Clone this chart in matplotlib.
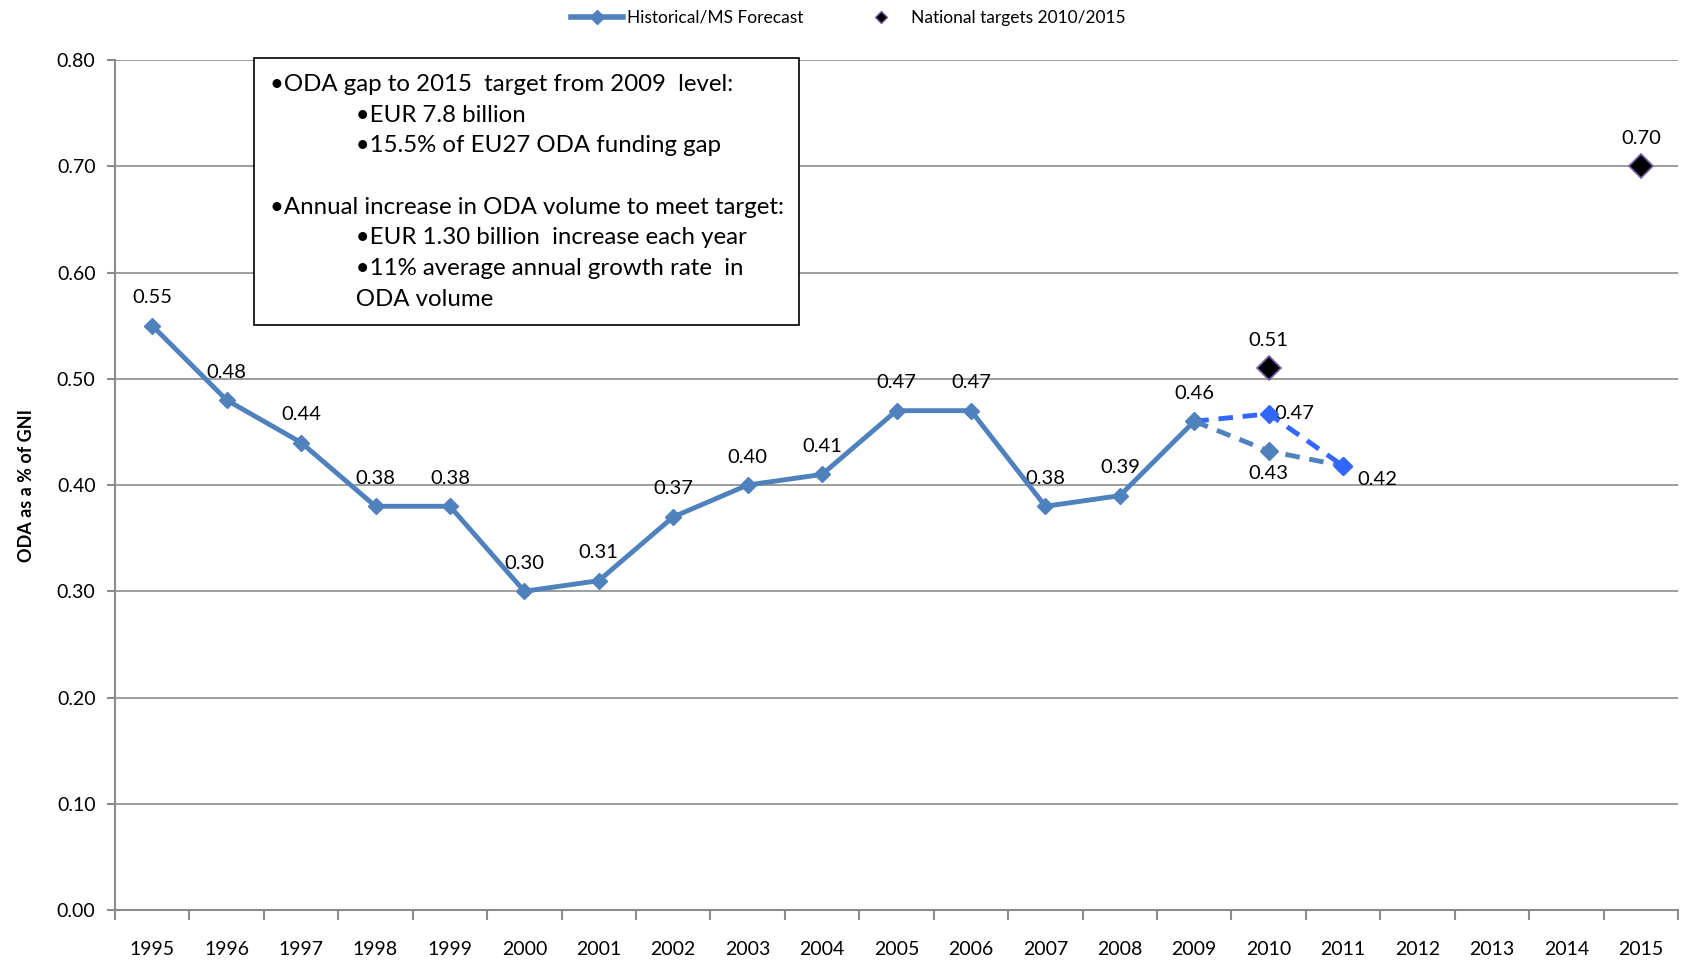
import matplotlib
matplotlib.use("Agg")
from matplotlib import pyplot as plt
from matplotlib.lines import Line2D
import numpy as np

plt.rcParams['font.family'] = ['Lato', 'DejaVu Sans']

# data
years = list(range(1995, 2016))
hist_years = list(range(1995, 2010))
hist_vals = [0.55, 0.48, 0.44, 0.38, 0.38, 0.30, 0.31, 0.37, 0.40, 0.41, 0.47, 0.47, 0.38, 0.39, 0.46]
fcA_years = [2009, 2010, 2011]
fcA_vals = [0.46, 0.432, 0.418]
fcB_years = [2009, 2010, 2011]
fcB_vals = [0.46, 0.467, 0.418]
target_years = [2010, 2015]
target_vals = [0.51, 0.70]

ind = " " * 14
box_text = ("\u2022ODA gap to 2015  target from 2009  level:\n"
            + ind + "\u2022EUR 7.8 billion\n"
            + ind + "\u202215.5% of EU27 ODA funding gap\n"
            "\n"
            "\u2022Annual increase in ODA volume to meet target:\n"
            + ind + "\u2022EUR 1.30 billion  increase each year\n"
            + ind + "\u202211% average annual growth rate  in\n"
            + ind + "ODA volume")

steel = '#4F81BD'
bright = '#3366FF'

fig = plt.figure(figsize=(16.86, 9.69), dpi=100)
ax = fig.add_axes([0.0682, 0.0609, 0.9271, 0.8771])

# gridlines
ax.set_ylim(0, 0.8)
ax.set_xlim(1994.5, 2015.5)
ax.set_yticks(np.arange(0, 0.81, 0.1))
ax.set_yticklabels(['%.2f' % v for v in np.arange(0, 0.81, 0.1)], fontsize=14)
ax.yaxis.grid(True, color='#8c8c8c', linewidth=1.2)
ax.set_axisbelow(True)

ax.set_xticks(years)
ax.set_xticklabels([str(y) for y in years], fontsize=14)
ax.set_xticks(np.arange(1994.5, 2015.6, 1), minor=True)
ax.tick_params(axis='x', which='major', length=0, pad=22)
ax.tick_params(axis='x', which='minor', length=7, color='#8c8c8c', width=1.5)
ax.tick_params(axis='y', length=6, color='#8c8c8c', width=1.5, pad=8)
for s in ['top', 'right']:
    ax.spines[s].set_visible(False)
for s in ['left', 'bottom']:
    ax.spines[s].set_color('#8c8c8c')
    ax.spines[s].set_linewidth(1.5)

ax.set_ylabel('ODA as a % of GNI', fontsize=13, fontweight='bold', labelpad=16)

# forecast lines
ax.plot(fcA_years, fcA_vals, color=steel, lw=3.5, ls=(0, (3, 2)), marker='D', ms=9,
        zorder=3)
ax.plot(fcB_years, fcB_vals, color=bright, lw=3.5, ls=(0, (3, 2)), marker='D', ms=9,
        markevery=[1, 2], zorder=4)

# historical line
ax.plot(hist_years, hist_vals, color=steel, lw=3.5, marker='D', ms=8, zorder=5)

# targets
ax.plot(target_years, target_vals, ls='none', marker='D', ms=12, color='black',
        markeredgecolor='#7a5ea8', markeredgewidth=1.2, zorder=6)

# data labels
for x, v in zip(hist_years, hist_vals):
    ax.annotate('%.2f' % v, (x, v), xytext=(0, 14), textcoords='offset points',
                ha='center', va='bottom', fontsize=14.5)
for x, v in zip(target_years, target_vals):
    ax.annotate('%.2f' % v, (x, v), xytext=(0, 14), textcoords='offset points',
                ha='center', va='bottom', fontsize=14.5)
ax.annotate('%.2f' % fcA_vals[1], (fcA_years[1], fcA_vals[1]), xytext=(0, -10),
            textcoords='offset points', ha='center', va='top', fontsize=14.5)
ax.annotate('%.2f' % fcB_vals[1], (fcB_years[1], fcB_vals[1]), xytext=(4, 0),
            textcoords='offset points', ha='left', va='center', fontsize=14.5)
ax.annotate('%.2f' % fcB_vals[2], (fcB_years[2], fcB_vals[2]), xytext=(10, -4),
            textcoords='offset points', ha='left', va='top', fontsize=14.5)

# text box
fig.text(0.160, 0.9236, box_text, fontsize=17.3, va='top', ha='left', linespacing=1.57,
         bbox=dict(boxstyle='square,pad=0.65', facecolor='white', edgecolor='black',
                   linewidth=1.2))

# legend
handles = [Line2D([0], [0], color=steel, lw=4, marker='D', ms=7, markevery=[1]),
           Line2D([0], [0], ls='none', marker='D', ms=6, color='black',
                  markeredgecolor='#7a5ea8')]
handles[0].set_xdata([0, 0.5, 1])
fig.legend(handles, ['Historical/MS Forecast', 'National targets 2010/2015'],
           loc='upper center', bbox_to_anchor=(0.503, 1.006), ncol=2, frameon=False,
           fontsize=12.5, handlelength=3, columnspacing=3, handletextpad=0.2)

fig.savefig('out.png', dpi=100)
